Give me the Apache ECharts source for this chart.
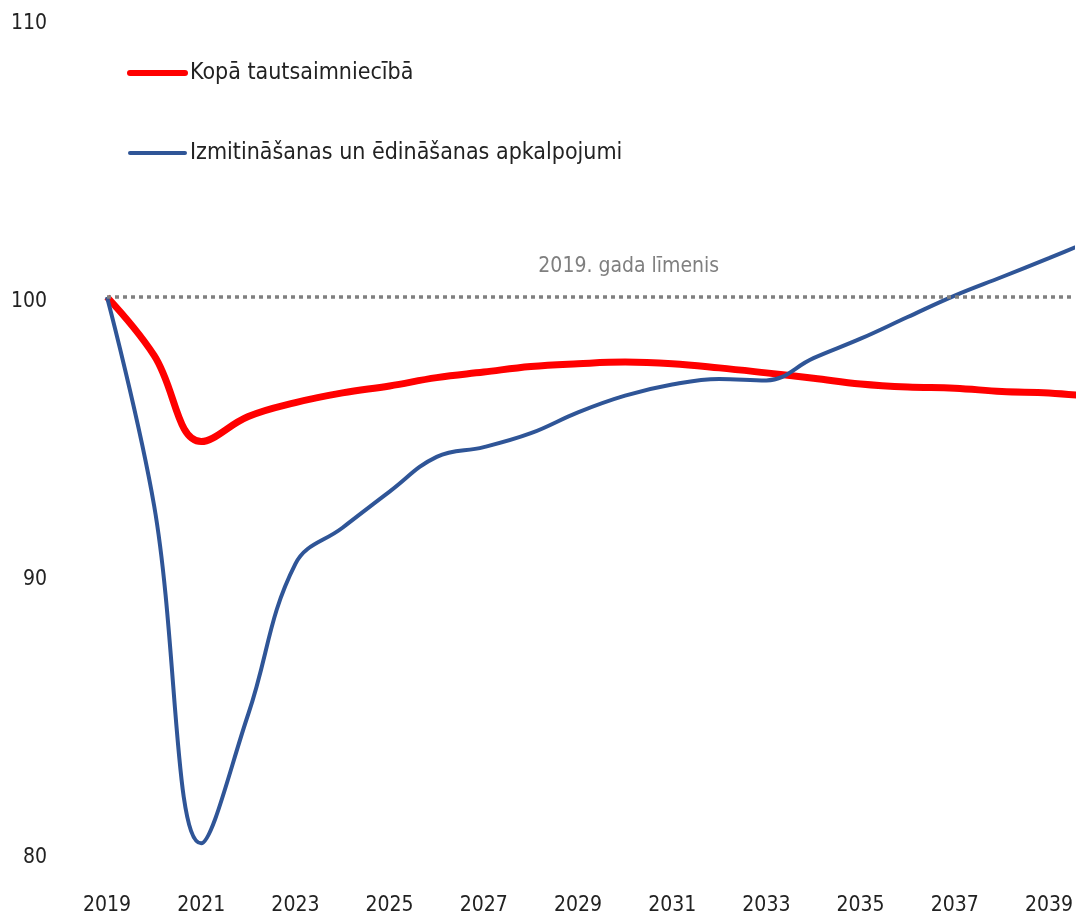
<!DOCTYPE html>
<html>
<head>
<meta charset="utf-8">
<script src="https://cdn.jsdelivr.net/npm/echarts@6/dist/echarts.min.js"></script>
<style>
  html, body { margin: 0; padding: 0; background: #fff; }
  #chart { width: 1076px; height: 922px; }
</style>
</head>
<body>
<div id="chart"></div>
<script>
  // data (index, 2019 = 100)
  const years = [2019, 2020, 2021, 2022, 2023, 2024, 2025, 2026, 2027, 2028, 2029,
    2030, 2031, 2032, 2033, 2034, 2035, 2036, 2037, 2038, 2039, 2040];
  const totalEconomy = [100, 97.9, 94.8, 95.7, 96.2, 96.55, 96.8, 97.1, 97.3, 97.5, 97.6,
    97.66, 97.6, 97.45, 97.27, 97.08, 96.87, 96.76, 96.72, 96.6, 96.55, 96.4];
  const hospitality = [100, 92.5, 80.35, 85.0, 90.4, 91.7, 93.0, 94.25, 94.6, 95.1, 95.85,
    96.45, 96.85, 97.05, 97.0, 97.8, 98.5, 99.28, 100.05, 100.72, 101.4, 102.1];
  const seriesNames = ['Kopā tautsaimniecībā', 'Izmitināšanas un ēdināšanas apkalpojumi'];
  const baseLabel = '2019. gada līmenis';

  const font = "'Liberation Sans Narrow', 'Arial Narrow', 'DejaVu Sans Condensed', sans-serif";
  const pairs = (vals) => years.map((y, i) => [y, vals[i]]);

  const myChart = echarts.init(document.getElementById('chart'));
  const option = {
    animation: false,
    backgroundColor: '#fff',
    grid: {
      left: 107,
      right: 0,
      top: 19,
      bottom: 69
    },
    legend: {
      orient: 'vertical',
      left: 122,
      top: 53,
      itemWidth: 55,
      itemHeight: 14,
      itemGap: 50,
      data: [
        { name: seriesNames[0], lineStyle: { width: 6, cap: 'round' } },
        { name: seriesNames[1], lineStyle: { width: 4, cap: 'round' } }
      ],
      itemStyle: { opacity: 0 },
      textStyle: {
        fontFamily: font,
        fontSize: 23,
        lineHeight: 30,
        color: '#222'
      }
    },
    xAxis: {
      type: 'value',
      min: 2019,
      max: 2039.5,
      interval: 2,
      axisLine: { show: false },
      axisTick: { show: false },
      splitLine: { show: false },
      axisLabel: {
        margin: 42,
        fontFamily: font,
        fontSize: 21,
        color: '#222',
        showMaxLabel: false,
        formatter: (v) => String(v)
      }
    },
    yAxis: {
      type: 'value',
      min: 80,
      max: 110,
      interval: 10,
      axisLine: { show: false },
      axisTick: { show: false },
      splitLine: { show: false },
      axisLabel: {
        margin: 60,
        formatter: (v) => '{v|' + v + '}',
        rich: {
          v: {
            fontFamily: font,
            fontSize: 21,
            color: '#222',
            padding: [10, 0, 0, 0]
          }
        }
      }
    },
    series: [
      {
        name: seriesNames[1],
        type: 'line',
        smooth: 0.4,
        symbol: 'none',
        color: '#2F5597',
        lineStyle: { width: 4, color: '#2F5597' },
        data: pairs(hospitality),
        z: 3
      },
      {
        name: seriesNames[0],
        type: 'line',
        smooth: 0.4,
        symbol: 'none',
        color: '#FF0000',
        lineStyle: { width: 7, color: '#FF0000' },
        data: pairs(totalEconomy),
        z: 2,
        markLine: {
          silent: true,
          symbol: 'none',
          lineStyle: { color: '#808080', type: [4, 4], width: 3.5 },
          label: {
            position: 'insideMiddleTop',
            formatter: baseLabel,
            fontFamily: font,
            fontSize: 21,
            color: '#7f7f7f',
            offset: [39, -15]
          },
          data: [{ yAxis: 100 }]
        }
      }
    ]
  };
  myChart.setOption(option);
</script>
</body>
</html>
